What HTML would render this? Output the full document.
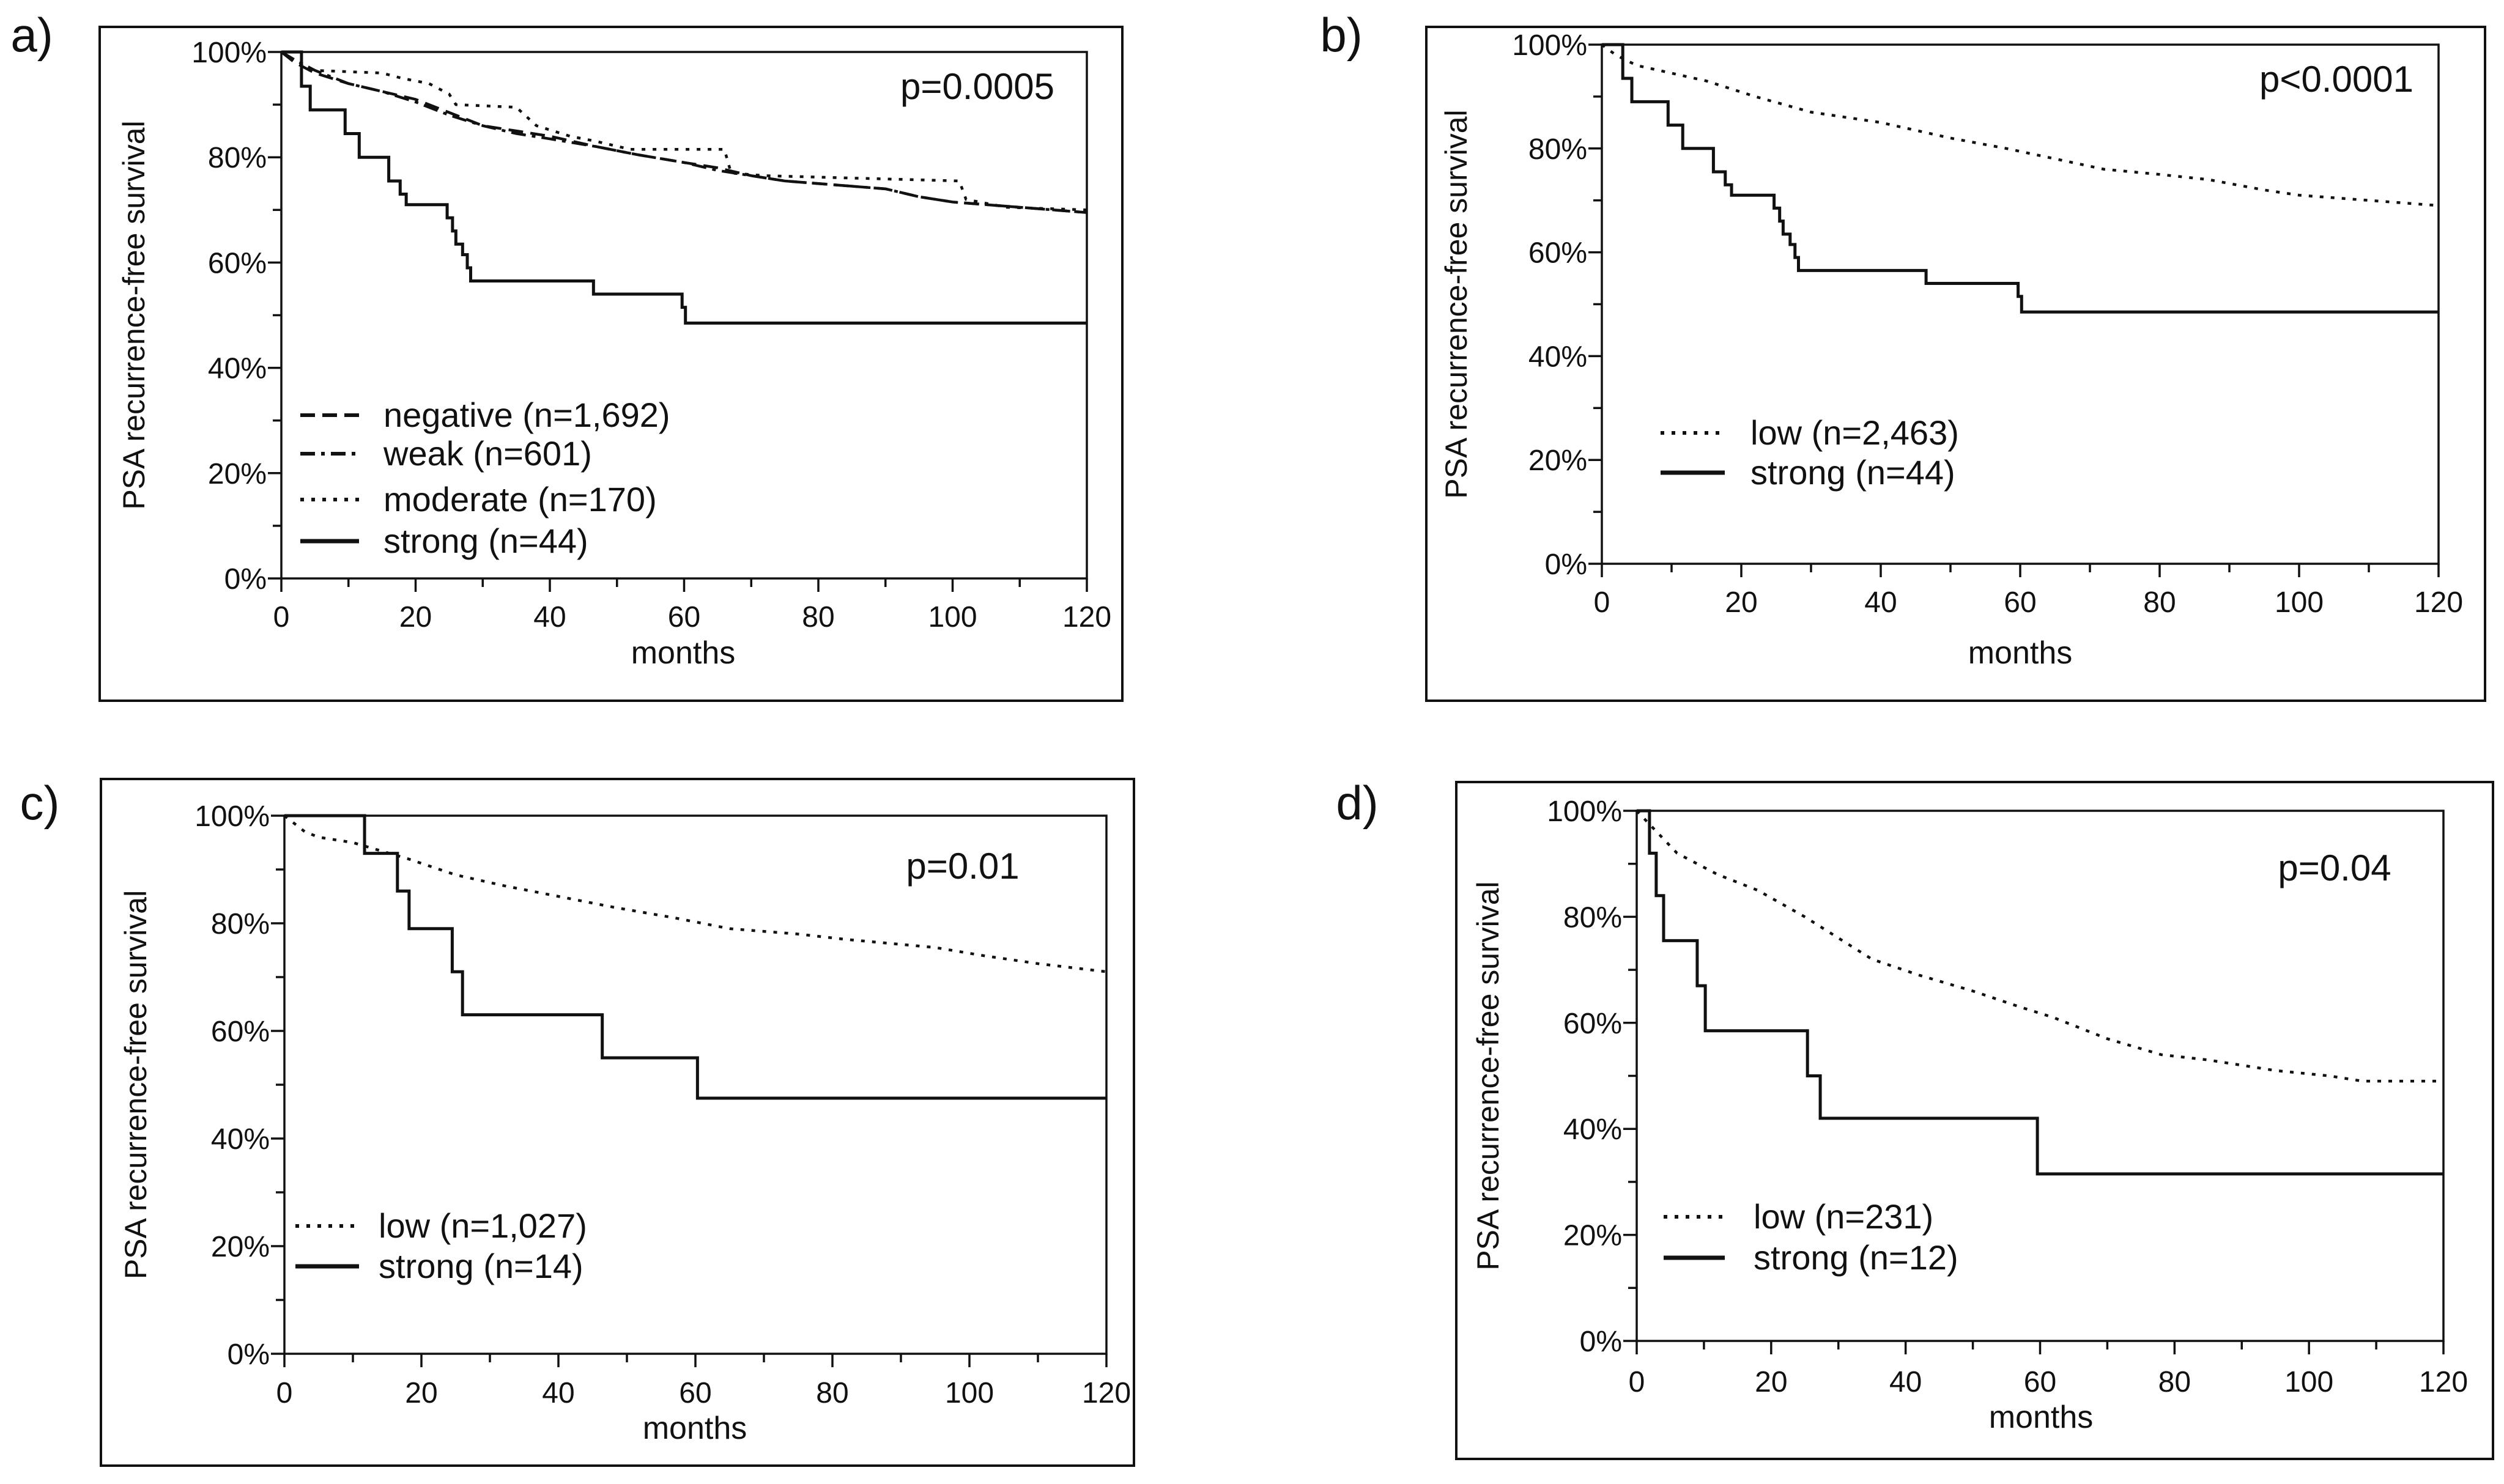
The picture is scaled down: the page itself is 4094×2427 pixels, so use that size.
<!DOCTYPE html>
<html><head><meta charset="utf-8"><style>
body{margin:0;background:#fff}
svg{display:block}
text{font-family:"Liberation Sans",sans-serif;fill:#111}
</style></head><body>
<svg id="svg" width="4094" height="2427" viewBox="0 0 4094 2427" xmlns="http://www.w3.org/2000/svg"></svg>
<script>
const xTicks=[0,20,40,60,80,100,120];
const yTicks=[0,20,40,60,80,100];
const aNegT=[0,2,5,10,15,20,25,30,35,40,47,53,60,65,70,75,80,85,90,95,100,105,110,115,120];
const aNegS=[100,98,96,94,92.5,91,88.5,86,85,84,82,80.5,79,78,76.5,75.5,75,74.5,74,72.5,71.5,71,70.5,70,69.5];
const aWeakT=[0,2,5,10,15,20,25,30,35,40,47,53,60,65,70,75,80,85,90,95,100,105,110,115,120];
const aWeakS=[100,98.5,96.5,94,92.5,90.5,88,86,84.5,83.5,82,80.5,79,77.5,76.5,75.5,75,74.5,74,72.5,71.5,71,70.5,70,69.5];
const aModT=[0,2,5,15,18,22,25,26,35,38,43,47,52,66,67,72,101,102,108,120];
const aModS=[100,98,96.5,96,95,94,92,90,89.5,86,84,83,81.5,81.5,77,76.5,75.5,72,70.5,70];
const aStrT=[0,3,4.3,9.5,11.6,16,17.7,18.6,24.7,25.5,26,27,27.7,28.2,46.5,59.7,60.2,120];
const aStrS=[100,93.5,89,84.5,80,75.5,73,71,68.5,66,63.5,61.5,59,56.5,54,51.5,48.5,48.5];
const bLowT=[0,2,5,10,15,22,30,40,50,58,65,72,80,87,95,100,110,120];
const bLowS=[100,98,96,94.5,93,90,87,85,82,80,78,76,75,74,72,71,70,69];
const cLowT=[0,3,5,10,18,25,32,40,48,57,65,75,82,95,102,110,120];
const cLowS=[100,97,96,95,92,89,87,85,83,81,79,78,77,75.5,74,72.5,71];
const cStrT=[0,11.7,16.5,18.2,24.5,26,46.4,60.3,120];
const cStrS=[100,93,86,79,71,63,55,47.5,47.5];
const dLowT=[0,3,6,12,18,25,30,35,42,50,57,62,70,78,85,95,103,108,120];
const dLowS=[100,96,92,88,85,80,76,72,69,66,63,61,57,54,53,51,50,49,49];
const dStrT=[0,1.9,2.9,4,9,10.2,25.4,27.3,59.6,120];
const dStrS=[100,92,84,75.5,67,58.5,50,42,31.5,31.5];

const NS="http://www.w3.org/2000/svg";
const svg=document.getElementById('svg');
function mk(tag,attrs,parent){const e=document.createElementNS(NS,tag);for(const k in attrs)e.setAttribute(k,attrs[k]);(parent||svg).appendChild(e);return e;}
const DASH={neg:"24 12",weak:"24 10 6 10",mod:"6 12",str:""};

const panels=[
 {id:"a",box:[163,44,1835,1146],plot:[460,85,1777,946],lab:[52,57],p:"p=0.0005",pp:[1598,162],yt:219,mo:[1117,1085],tk:1008,
  series:[["neg",aNegT,aNegS],["weak",aWeakT,aWeakS],["mod",aModT,aModS],["str",aStrT,aStrS]],
  leg:{x1:491,x2:587,tx:627,rows:[679,742,817,885],items:[["neg","negative (n=1,692)"],["weak","weak (n=601)"],["mod","moderate (n=170)"],["str","strong (n=44)"]]}},
 {id:"b",box:[2332,44,4063,1146],plot:[2619,73,3987,922],lab:[2193,57],p:"p<0.0001",pp:[3820,150],yt:2381,mo:[3303,1085],tk:984,
  series:[["mod",bLowT,bLowS],["str",aStrT,aStrS]],
  leg:{x1:2715,x2:2820,tx:2862,rows:[708,773],items:[["mod","low (n=2,463)"],["str","strong (n=44)"]]}},
 {id:"c",box:[165,1274,1854,2397],plot:[465,1334,1809,2214],lab:[65,1313],p:"p=0.01",pp:[1574,1437],yt:222,mo:[1136,2353],tk:2277,
  series:[["mod",cLowT,cLowS],["str",cStrT,cStrS]],
  leg:{x1:483,x2:587,tx:619,rows:[2005,2071],items:[["mod","low (n=1,027)"],["str","strong (n=14)"]]}},
 {id:"d",box:[2381,1279,4076,2386],plot:[2676,1326,3995,2193],lab:[2219,1313],p:"p=0.04",pp:[3817,1440],yt:2433,mo:[3337,2335],tk:2259,
  series:[["mod",dLowT,dLowS],["str",dStrT,dStrS]],
  leg:{x1:2720,x2:2820,tx:2867,rows:[1990,2057],items:[["mod","low (n=231)"],["str","strong (n=12)"]]}}
];

panels.forEach(P=>{
 const g=mk('g',{});
 
 
 const [bx1,by1,bx2,by2]=P.box;
 const fr=mk('rect',{x:bx1,y:by1,width:bx2-bx1,height:by2-by1,fill:'none',stroke:'#111','stroke-width':4},g);
 
 
 const [x0,y0,x1,y1]=P.plot;
 const sx=v=>x0+(x1-x0)*v/120, sy=v=>y1-(y1-y0)*v/100;
 const pl=mk('rect',{x:x0,y:y0,width:x1-x0,height:y1-y0,fill:'none',stroke:'#111','stroke-width':3.5},g);
 
 
 for(let m=0;m<=120;m+=10){mk('line',{x1:sx(m),x2:sx(m),y1:y1,y2:y1+(m%20==0?22:14),stroke:'#111','stroke-width':3.5},g);}
 for(let v=0;v<=100;v+=10){mk('line',{x1:x0,x2:x0-(v%20==0?22:14),y1:sy(v),y2:sy(v),stroke:'#111','stroke-width':3.5},g);}
 xTicks.forEach(t=>{const e=mk('text',{x:sx(t),y:P.tk+17,'font-size':48,'text-anchor':'middle'},g);e.textContent=t;
  
  });
 yTicks.forEach(t=>{const e=mk('text',{x:x0-24,y:sy(t)+17,'font-size':48,'text-anchor':'end'},g);e.textContent=t+'%';
  
  });
 const yt=mk('text',{x:P.yt,y:(y0+y1)/2,'font-size':50,'text-anchor':'middle',transform:`rotate(-90 ${P.yt} ${(y0+y1)/2})`,dy:17},g);
 yt.textContent='PSA recurrence-free survival';
 
 
 const mo=mk('text',{x:P.mo[0],y:P.mo[1],'font-size':52,'text-anchor':'middle'},g);mo.textContent='months';
 
 
 const lb=mk('text',{x:P.lab[0],y:P.lab[1]+27,'font-size':78,'text-anchor':'middle'},g);lb.textContent=P.id+')';
 
 
 const pv=mk('text',{x:P.pp[0],y:P.pp[1],'font-size':60,'text-anchor':'middle'},g);pv.textContent=P.p;
 
 
 P.series.forEach(([k,T,S])=>{
  let d=`M${sx(T[0])},${sy(S[0])}`;
  for(let i=1;i<T.length;i++){
   if(k=='str') d+=` H${sx(T[i])} V${sy(S[i])}`;
   else d+=` L${sx(T[i])},${sy(S[i])}`;
  }
  const p=mk('path',{d:d,fill:'none',stroke:'#111','stroke-width':k=='str'?5:4.5,'stroke-dasharray':DASH[k]},g);
  
  
 });
 P.leg.items.forEach(([k,label],i)=>{
  const yy=P.leg.rows[i];
  const l=mk('line',{x1:P.leg.x1,x2:P.leg.x2,y1:yy,y2:yy,stroke:'#111','stroke-width':k=='str'?7:6,'stroke-dasharray':DASH[k]},g);
  
  
  const t=mk('text',{x:P.leg.tx,y:yy+19,'font-size':56},g);t.textContent=label;
  
  
 });
});
</script>
</body></html>
